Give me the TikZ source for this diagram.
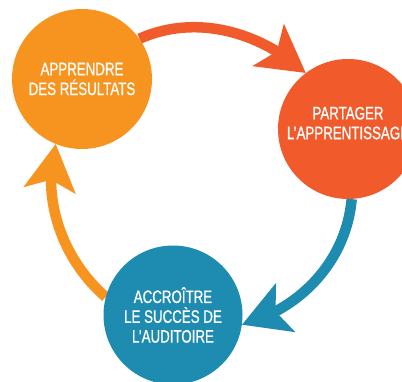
\documentclass[tikz,border=0pt]{standalone}
\usepackage{fontspec}
\newfontfamily\cond[FakeStretch=0.74,FakeBold=0.8]{Liberation Sans}
\usetikzlibrary{arrows.meta,bending}
\definecolor{corange}{HTML}{F7941F}
\definecolor{cred}{HTML}{F15A2A}
\definecolor{cblue}{HTML}{1E8BB0}
\pgfdeclarelayer{bg}
\pgfsetlayers{bg,main}
\begin{document}
\begin{tikzpicture}[x=1pt,y=1pt,
  stage/.style={circle,inner sep=0pt,minimum size=140pt,text=white,align=center,
    font=\cond\fontsize{18}{19.8}\selectfont},
  cyc/.style={line width=10.5pt,-{Stealth[length=47pt,width=53pt,inset=11pt,flex,line width=0pt]}}]
\useasboundingbox (0,0) rectangle (402,381);
\clip (0,0) rectangle (402,381);
\node[stage,fill=corange] (o) at (82,302) {APPRENDRE\\DES RÉSULTATS};
\node[stage,fill=cred,text depth=12pt] (r) at (348,252) {PARTAGER\\L’APPRENTISSAGE};
\node[stage,fill=cblue,minimum size=139pt] (b) at (173,66) {ACCROÎTRE\\LE SUCCÈS DE\\L’AUDITOIRE};
\begin{pgfonlayer}{bg}
\draw[cyc,cred] (o.35) to[out=24,in=138,looseness=0.93] (r.127);
\draw[cyc,cblue] (r.273) to[out=-95,in=15,looseness=0.94] (b.-8);
\draw[cyc,corange] (b.165) to[out=139,in=255,looseness=0.91] (o.248);
\end{pgfonlayer}
\end{tikzpicture}
\end{document}
